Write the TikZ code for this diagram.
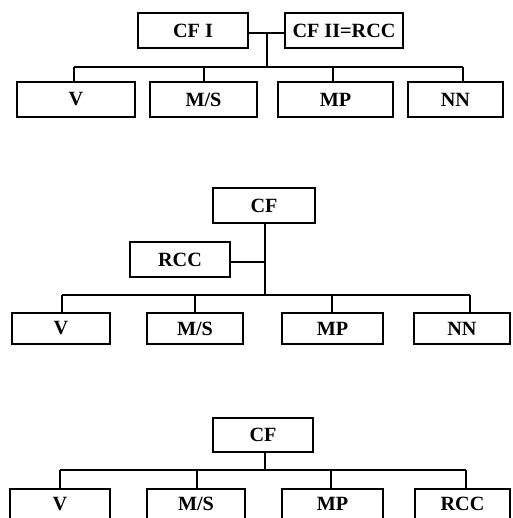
\documentclass[tikz,border=0pt]{standalone}
\usepackage{fontspec}
\setmainfont{Liberation Serif}
\begin{document}
\begin{tikzpicture}[x=0.02cm,y=-0.02cm,
  lbl/.style={font=\fontsize{11.5}{13}\selectfont\bfseries},
  box/.style={draw, line width=1.3pt, inner sep=0pt, lbl},
  link/.style={line width=1.4pt}]
\useasboundingbox (0,0) rectangle (512,518);
\clip (0,0) rectangle (512,518);

% ---------- first chart: two coordinators over four units ----------
\node[box, minimum width=2.2cm,  minimum height=0.7cm] (ta) at (193,30.5) {CF I};
\node[box, minimum width=2.36cm, minimum height=0.7cm] (tb) at (344,30.5) {CF II=RCC};
\node[box, minimum width=2.36cm, minimum height=0.7cm] (t1) at (76,99.5)   {V};
\node[box, minimum width=2.14cm, minimum height=0.7cm] (t2) at (203.5,99.5) {M/S};
\node[box, minimum width=2.3cm,  minimum height=0.7cm] (t3) at (335.5,99.5) {MP};
\node[box, minimum width=1.9cm,  minimum height=0.7cm] (t4) at (455.5,99.5) {NN};
\coordinate (tj) at (267,33);
\coordinate (tl) at (74,67);
\coordinate (tr) at (463,67);
\draw[link] (ta.east |- tj) -- (tb.west |- tj);
\draw[link] (tj) -- (tj |- tl);
\draw[link] (tl) -- (tr);
\draw[link] (tl) -- (tl |- t1.north);
\draw[link] (204,67) -- (204,82 |- t2.north);
\draw[link] (333,67) -- (333,82 |- t3.north);
\draw[link] (tr) -- (tr |- t4.north);

% ---------- second chart: RCC attached to the spine ----------
\node[box, minimum width=2.04cm, minimum height=0.7cm] (ma) at (264,205.5) {CF};
\node[box, minimum width=2cm,    minimum height=0.7cm] (mr) at (180,259.5) {RCC};
\node[box, minimum width=1.96cm, minimum height=0.62cm] (m1) at (61,328.5)  {V};
\node[box, minimum width=1.92cm, minimum height=0.62cm] (m2) at (195,328.5) {M/S};
\node[box, minimum width=2.02cm, minimum height=0.62cm] (m3) at (332.5,328.5) {MP};
\node[box, minimum width=1.92cm, minimum height=0.62cm] (m4) at (462,328.5) {NN};
\coordinate (mj) at (265,262);
\coordinate (ml) at (62,295);
\coordinate (mrr) at (470,295);
\draw[link] (mj |- ma.south) -- (mj |- ml);
\draw[link] (mr.east |- mj) -- (mj);
\draw[link] (ml) -- (mrr);
\draw[link] (ml) -- (ml |- m1.north);
\draw[link] (195,295) -- (195,295 |- m2.north);
\draw[link] (332,295) -- (332,295 |- m3.north);
\draw[link] (mrr) -- (mrr |- m4.north);

% ---------- third chart: RCC as a fourth unit ----------
\node[box, minimum width=2cm, minimum height=0.68cm] (ba) at (263,435) {CF};
\node[box, minimum width=2cm,    minimum height=0.84cm, anchor=north] (b1) at (60,488)  {};
\node[box, minimum width=1.96cm, minimum height=0.84cm, anchor=north] (b2) at (196,488) {};
\node[box, minimum width=2.02cm, minimum height=0.84cm, anchor=north] (b3) at (332.5,488) {};
\node[box, minimum width=1.9cm,  minimum height=0.84cm, anchor=north] (b4) at (462.5,488) {};
\node[lbl, anchor=base] (b1t) at (60,510)    {V};
\node[lbl, anchor=base] (b2t) at (196,510)   {M/S};
\node[lbl, anchor=base] (b3t) at (332.5,510) {MP};
\node[lbl, anchor=base] (b4t) at (462.5,510) {RCC};
\coordinate (bl) at (60,470);
\coordinate (br) at (466,470);
\draw[link] (265,452 |- ba.south) -- (265,470);
\draw[link] (bl) -- (br);
\draw[link] (bl) -- (bl |- b1.north);
\draw[link] (197,470) -- (197,470 |- b2.north);
\draw[link] (331,470) -- (331,470 |- b3.north);
\draw[link] (br) -- (br |- b4.north);
\end{tikzpicture}
\end{document}
